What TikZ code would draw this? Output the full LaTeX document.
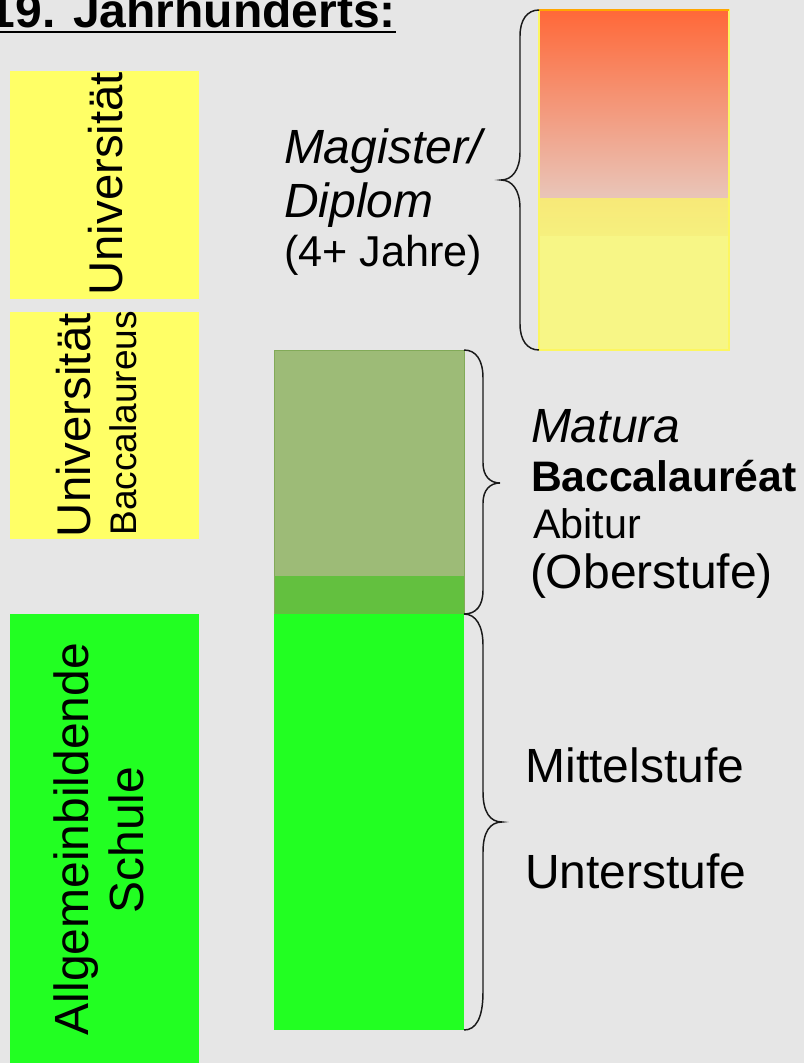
\documentclass[tikz,border=0pt]{standalone}
\usepackage{fontspec}
\setmainfont{Liberation Sans}
\definecolor{bgcol}{RGB}{230,230,230}
\definecolor{uniyellow}{RGB}{255,255,102}
\definecolor{schoolgreen}{RGB}{34,255,34}
\definecolor{olivegreen}{RGB}{157,187,119}
\definecolor{midgreen}{RGB}{99,192,63}
\definecolor{oliveedge}{RGB}{130,170,88}
\definecolor{gradtop}{RGB}{255,104,56}
\definecolor{gradbot}{RGB}{233,197,185}
\definecolor{bandtop}{RGB}{247,233,120}
\definecolor{bandbot}{RGB}{246,240,126}
\definecolor{paleyellow}{RGB}{247,246,134}
\definecolor{boxedge}{RGB}{252,246,96}
\definecolor{bracecol}{RGB}{25,25,25}
\newcommand\fs[1]{\fontsize{#1}{1.2\dimexpr#1pt\relax}\selectfont}
\begin{document}
\begin{tikzpicture}[x=0.75pt,y=-0.75pt,
  curl/.style={draw=bracecol,line width=1.1pt},
  txt/.style={inner sep=0pt,outer sep=0pt,anchor=base west},
  vtxt/.style={inner sep=0pt,outer sep=0pt,rotate=90}]
\useasboundingbox (0,0) rectangle (804,1063);
\fill[bgcol] (0,0) rectangle (804,1063);
\begin{scope}
\clip (0,0) rectangle (804,1063);

% heading
\node[inner sep=0pt,outer sep=0pt,anchor=base east,font=\fs{36}\bfseries]
  (title) at (396,28) {19. Jahrhunderts:};
\draw[line width=1.6pt] ([yshift=-2.7pt]title.base west) -- ([yshift=-2.7pt]title.base east);

% left column: institutions
\fill[uniyellow] (10,71) rectangle (199,299);
\fill[uniyellow] (10,312) rectangle (199,539);
\fill[schoolgreen] (10,614) rectangle (199,1070);
\node[vtxt,anchor=base west,font=\fs{35.5}] (uniA) at (122,295.5) {Universität};
\node[vtxt,anchor=base west,font=\fs{35.5}] (uniB) at (90.5,537) {Universität};
\node[vtxt,anchor=base west,font=\fs{27.8}] (bacc) at (136,535.5) {Baccalaureus};
\node[vtxt,anchor=base,font=\fs{36}] (allg) at (88,839) {Allgemeinbildende};
\node[vtxt,anchor=base,font=\fs{36}] (schule) at (143,840) {Schule};

% middle column: school levels
\fill[olivegreen] (274,350) rectangle (464,576);
\fill[midgreen] (274,576) rectangle (464,614);
\draw[oliveedge,line width=0.7pt] (274,350) rectangle (464,614);
\fill[schoolgreen] (274,614) rectangle (464,1030);

% right column: university degree
\shade[top color=gradtop,bottom color=gradbot] (539,10) rectangle (729,198);
\shade[top color=bandtop,bottom color=bandbot] (539,198) rectangle (729,236);
\fill[paleyellow] (539,236) rectangle (729,350);
\draw[boxedge,line width=0.8pt] (539,10) rectangle (729,350);
\draw[orange!70!yellow,line width=0.8pt] (539,10) -- (729,10);

% braces
\coordinate (obA) at (464,350);
\coordinate (obB) at (464,614);
\draw[curl] (obA) .. controls (476,350) and (483,360) .. (483,378)
  -- (483,463) .. controls (483,476) and (490,483) .. (500,483)
  .. controls (490,483) and (483,490) .. (483,503)
  -- (483,590) .. controls (483,606) and (476,614) .. (obB);
\coordinate (gbA) at (464,614);
\coordinate (gbB) at (464,1030);
\draw[curl] (gbA) .. controls (476,614) and (483,626) .. (483,645)
  -- (483,792) .. controls (483,812) and (490,822) .. (502,822)
  .. controls (490,822) and (483,832) .. (483,852)
  -- (483,992) .. controls (483,1018) and (476,1030) .. (gbB);
\coordinate (ubA) at (539,10);
\coordinate (ubB) at (539,350);
\draw[curl] (ubA) .. controls (527,10) and (520,20) .. (520,36)
  -- (520,152) .. controls (520,170) and (512,180) .. (501,180)
  .. controls (512,180) and (520,190) .. (520,208)
  -- (520,324) .. controls (520,340) and (527,350) .. (ubB);

% labels
\node[txt,font=\fs{36}\itshape] (mag) at (284,163) {Magister/};
\node[txt,font=\fs{36}\itshape] (dip) at (284,217) {Diplom};
\node[txt,font=\fs{32.4}] (jahre) at (284,266) {(4+ Jahre)};

\node[txt,font=\fs{36}\itshape] (matura) at (531,442) {Matura};
\node[txt,font=\fs{32}\bfseries] (baccal) at (531,491) {Baccalauréat};
\node[txt,font=\fs{31}] (abitur) at (533,538) {Abitur};
\node[txt,font=\fs{36}] (ober) at (530,588) {(Oberstufe)};

\node[txt,font=\fs{36}] (mittel) at (525.5,782) {Mittelstufe};
\node[txt,font=\fs{36}] (unter) at (525,888) {Unterstufe};
\end{scope}
\end{tikzpicture}
\end{document}
